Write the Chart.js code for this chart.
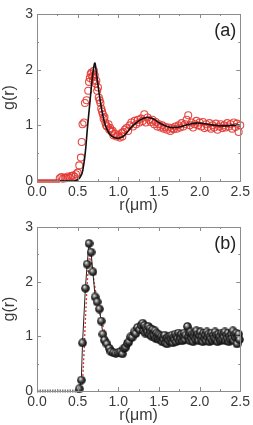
<!DOCTYPE html>
<html>
<head>
<meta charset="utf-8">
<script src="https://cdn.jsdelivr.net/npm/chart.js@4.4.1/dist/chart.umd.min.js"></script>
<style>
  html, body { margin: 0; padding: 0; background: #fff; }
  body { width: 253px; height: 425px; position: relative; overflow: hidden; }
  canvas { position: absolute; left: 0; }
  #ca { top: 0; }
  #cb { top: 212px; }
</style>
</head>
<body>
<canvas id="ca" width="253" height="215"></canvas>
<canvas id="cb" width="253" height="213"></canvas>
<script>
// axis ticks
const xTicks = [0, 0.5, 1.0, 1.5, 2.0, 2.5];
const yTicks = [0, 1, 2, 3];

// panel (a): measured g(r), red open circles
const aZeroR = [0, 0.28];
const aZeroG = [0, 0];
const aDataR = [0.28,0.30,0.32,0.34,0.36,0.38,0.40,0.42,0.44,0.46,0.48,0.50,0.52,0.54,0.55,0.56,0.58,0.59,0.61,0.63,
  0.64,0.65,0.66,0.67,0.68,0.69,0.70,0.71,0.72,0.73,0.74,0.75,0.76,0.77,0.78,0.79,0.80,0.81,0.82,0.83,
  0.84,0.85,0.86,0.88,0.89,0.90,0.92,0.93,0.94,0.96,0.98,1.00,1.02,1.04,1.05,1.06,1.08,1.10,1.12,1.14,
  1.16,1.18,1.20,1.22,1.24,1.26,1.28,1.30,1.32,1.34,1.36,1.38,1.40,1.42,1.44,1.46,1.48,1.50,1.52,1.54,
  1.56,1.58,1.60,1.62,1.64,1.66,1.68,1.70,1.72,1.74,1.76,1.78,1.80,1.82,1.84,1.86,1.88,1.90,1.92,1.94,
  1.96,1.98,2.00,2.02,2.04,2.06,2.08,2.10,2.12,2.14,2.16,2.18,2.20,2.22,2.24,2.26,2.28,2.30,2.32,2.34,
  2.36,2.38,2.40,2.42,2.44,2.46,2.48,2.50];
const aDataG = [0.05,0.07,0.04,0.06,0.05,0.08,0.06,0.09,0.10,0.08,0.12,0.15,0.28,0.42,0.70,1.02,1.05,1.40,1.45,1.62,
  1.78,1.85,1.92,1.95,1.88,1.80,1.98,1.90,1.75,1.80,1.62,1.68,1.50,1.45,1.40,1.30,1.25,1.20,1.12,1.15,
  1.05,1.00,0.98,1.02,0.92,0.95,0.88,0.90,0.82,0.85,0.80,0.82,0.78,0.86,0.80,0.88,0.92,0.95,0.90,1.00,
  1.05,0.98,1.08,1.02,1.10,1.05,1.12,1.08,1.20,1.05,1.14,1.10,1.06,1.10,1.02,1.06,0.98,1.02,0.96,1.00,
  0.94,0.97,0.92,0.96,0.90,0.95,0.93,0.98,0.94,1.00,0.96,1.04,0.98,1.02,1.10,1.18,1.00,1.05,0.96,1.02,
  1.08,1.00,1.05,0.98,1.06,0.95,1.02,0.97,1.04,0.94,1.00,0.96,1.03,0.92,0.98,1.02,0.95,1.00,0.96,1.04,
  0.98,1.02,0.94,1.05,0.97,1.03,0.88,1.00];

// panel (a): model curve, black line
const aFitR = [0.28,0.45,0.50,0.55,0.58,0.60,0.62,0.65,0.68,0.71,0.73,0.75,0.78,0.80,0.83,0.86,0.90,0.95,1.00,1.05,
  1.10,1.15,1.20,1.25,1.30,1.35,1.40,1.45,1.50,1.55,1.60,1.65,1.70,1.75,1.80,1.85,1.90,1.95,2.00,2.10,
  2.20,2.30,2.40,2.50];
const aFitG = [0,0,0.02,0.12,0.35,0.60,0.95,1.40,1.85,2.12,1.95,1.72,1.42,1.25,1.05,0.93,0.83,0.78,0.77,0.79,
  0.86,0.95,1.02,1.08,1.12,1.14,1.13,1.10,1.05,1.01,0.98,0.96,0.96,0.97,0.99,1.01,1.03,1.04,1.04,1.02,
  1.00,0.99,1.00,1.00];

// panel (b): simulated g(r), black spheres
const bZeroR = [0, 0.52];
const bZeroG = [0, 0];
const bDataR = [0.52,0.545,0.56,0.595,0.617,0.64,0.665,0.687,0.715,0.74,0.767,0.79,0.81,0.83,0.86,0.89,0.91,0.94,0.97,1.00,
  1.03,1.05,1.07,1.09,1.11,1.13,1.15,1.17,1.195,1.215,1.235,1.26,1.28,1.30,1.31,1.32,1.33,1.34,1.35,1.36,
  1.37,1.38,1.39,1.40,1.41,1.42,1.43,1.44,1.45,1.46,1.47,1.48,1.49,1.50,1.51,1.52,1.53,1.54,1.55,1.56,
  1.57,1.58,1.59,1.60,1.61,1.62,1.63,1.64,1.65,1.66,1.67,1.68,1.69,1.70,1.71,1.72,1.73,1.74,1.75,1.76,
  1.77,1.78,1.79,1.80,1.81,1.82,1.83,1.85,1.86,1.87,1.88,1.89,1.90,1.91,1.92,1.93,1.94,1.95,1.96,1.97,
  1.98,1.99,2.00,2.01,2.02,2.03,2.04,2.05,2.06,2.07,2.08,2.09,2.10,2.11,2.12,2.13,2.14,2.15,2.16,2.17,
  2.18,2.19,2.20,2.21,2.22,2.23,2.24,2.25,2.26,2.27,2.28,2.29,2.30,2.31,2.32,2.33,2.34,2.35,2.36,2.37,
  2.38,2.39,2.40,2.41,2.42,2.43,2.44,2.45,2.46,2.47,2.48,2.49];
const bDataG = [0.04,0.20,0.88,1.88,2.32,2.70,2.54,2.18,1.72,1.63,1.50,1.28,1.04,0.93,0.86,0.78,0.72,0.70,0.69,0.70,
  0.72,0.68,0.78,0.80,0.87,0.90,0.99,0.98,1.08,1.05,1.16,1.12,1.20,1.24,1.10,1.20,1.06,1.16,1.12,1.08,
  1.18,1.04,1.14,1.08,1.00,1.12,1.04,1.02,1.10,0.96,1.06,0.98,1.04,0.94,1.02,0.96,1.00,0.90,0.98,0.94,
  1.02,0.88,0.96,0.86,0.98,0.92,1.00,0.90,0.96,1.02,0.88,0.98,0.94,1.04,0.90,1.00,0.96,1.06,0.92,1.02,
  0.96,1.04,0.92,1.00,1.06,0.94,1.02,1.18,1.00,1.06,0.92,1.08,0.96,1.04,0.90,1.00,1.06,0.94,1.10,0.98,
  1.04,0.92,1.02,1.08,0.94,1.00,0.90,1.06,0.96,1.02,0.92,1.08,0.98,1.04,0.90,1.00,0.95,1.06,0.92,1.02,
  0.96,1.08,0.94,1.02,0.90,1.04,0.96,1.00,0.92,1.06,0.94,1.04,0.98,1.08,0.92,1.02,0.96,1.06,0.90,1.00,
  0.94,1.04,0.96,1.10,0.92,1.02,0.98,1.06,0.86,1.00,1.04,0.94];

// panel (b): model curve, red dotted line
const bFitR = [0.52,0.55,0.57,0.60,0.63,0.65,0.67,0.70,0.75,0.80,0.85,0.90,0.95,1.00,1.05,1.10,1.15,1.20,1.25,1.30,
  1.35,1.40,1.50,1.60,1.70,1.80,1.90,2.00,2.20,2.50];
const bFitG = [0,0.05,0.45,1.45,2.25,2.48,2.35,2.02,1.58,1.25,1.00,0.85,0.76,0.72,0.72,0.77,0.87,0.98,1.07,1.12,
  1.13,1.09,1.01,0.96,0.95,0.98,1.00,1.01,1.00,1.00];

const FONT = "'Liberation Sans', Arial, sans-serif";
const TXT = '#3a3a3a';

const pts = (xs, ys) => xs.map((x, i) => ({ x: x, y: ys[i] }));

function makeSphere(d) {
  const c = document.createElement('canvas');
  c.width = c.height = d;
  const g = c.getContext('2d');
  const grad = g.createRadialGradient(d * 0.36, d * 0.32, 0.1, d / 2, d / 2, d / 2);
  grad.addColorStop(0, '#ffffff');
  grad.addColorStop(0.2, '#b0b0b0');
  grad.addColorStop(0.55, '#3c3c3c');
  grad.addColorStop(1, '#050505');
  g.fillStyle = grad;
  g.beginPath();
  g.arc(d / 2, d / 2, d / 2 - 0.2, 0, Math.PI * 2);
  g.fill();
  return c;
}
const sphere = makeSphere(9);

// frame, inward ticks on all four sides, and the panel letter
const framePlugin = {
  id: 'frame',
  afterDraw(chart, args, opts) {
    const { ctx, chartArea: a, scales } = chart;
    ctx.save();
    ctx.strokeStyle = '#8c8c8c';
    ctx.lineWidth = 1;
    ctx.strokeRect(Math.round(a.left) + 0.5, Math.round(a.top) + 0.5,
      Math.round(a.right - a.left), Math.round(a.bottom - a.top));
    ctx.beginPath();
    for (let v = 0; v <= 2.5001; v += 0.25) {
      const px = Math.round(scales.x.getPixelForValue(v)) + 0.5;
      const len = Math.abs(v / 0.5 - Math.round(v / 0.5)) < 1e-6 ? 4 : 2;
      ctx.moveTo(px, a.bottom); ctx.lineTo(px, a.bottom - len);
      ctx.moveTo(px, a.top); ctx.lineTo(px, a.top + len);
    }
    for (let v = 0; v <= 3.0001; v += 0.5) {
      const py = Math.round(scales.y.getPixelForValue(v)) + 0.5;
      const len = Math.abs(v - Math.round(v)) < 1e-6 ? 4 : 2;
      ctx.moveTo(a.left, py); ctx.lineTo(a.left + len, py);
      ctx.moveTo(a.right, py); ctx.lineTo(a.right - len, py);
    }
    ctx.stroke();
    ctx.fillStyle = '#222';
    ctx.font = '18px ' + FONT;
    ctx.textAlign = 'right';
    ctx.textBaseline = 'middle';
    ctx.fillText(opts.label, a.right - 4, a.top + 17);
    ctx.restore();
  }
};

function scalesFor() {
  return {
    x: {
      type: 'linear', min: 0, max: 2.5,
      afterFit: s => { s.height = 34; },
      afterBuildTicks: s => { s.ticks = xTicks.map(v => ({ value: v })); },
      grid: { display: false, drawTicks: false },
      border: { display: false },
      ticks: { padding: 3, color: TXT, font: { family: FONT, size: 14 }, maxRotation: 0,
        callback: v => Number(v).toFixed(1) },
      title: { display: true, text: 'r(\u03bcm)', color: TXT, padding: 0,
        font: { family: FONT, size: 16 } }
    },
    y: {
      type: 'linear', min: 0, max: 3,
      afterFit: s => { s.width = 37; },
      afterBuildTicks: s => { s.ticks = yTicks.map(v => ({ value: v })); },
      grid: { display: false, drawTicks: false },
      border: { display: false },
      ticks: { padding: 4, color: TXT, font: { family: FONT, size: 14 } },
      title: { display: true, text: 'g(r)', color: TXT, padding: 0,
        font: { family: FONT, size: 16 } }
    }
  };
}

const common = {
  responsive: false,
  animation: false,
  events: [],
  plugins: { legend: { display: false }, tooltip: { enabled: false } }
};

new Chart(document.getElementById('ca'), {
  type: 'scatter',
  data: {
    datasets: [
      { data: pts(aZeroR, aZeroG), showLine: true, borderColor: '#e33a32', borderWidth: 3.5,
        pointRadius: 0, clip: false, order: 0 },
      { data: pts(aFitR, aFitG), showLine: true, borderColor: '#111', borderWidth: 1.6,
        pointRadius: 0, tension: 0.35, order: 1 },
      { data: pts(aDataR, aDataG), borderColor: 'rgba(225,55,50,0.9)', backgroundColor: 'rgba(0,0,0,0)',
        borderWidth: 1.1, pointRadius: 3.5, clip: false, order: 2 }
    ]
  },
  options: Object.assign({}, common, {
    layout: { padding: { top: 14, right: 11, left: 0, bottom: 0 } },
    scales: scalesFor(),
    plugins: Object.assign({}, common.plugins, { frame: { label: '(a)' } })
  }),
  plugins: [framePlugin]
});

new Chart(document.getElementById('cb'), {
  type: 'scatter',
  data: {
    datasets: [
      { data: pts(bDataR, bDataG), showLine: true, borderColor: '#222', borderWidth: 1,
        pointStyle: sphere, pointRadius: 4.5, clip: false, order: 1 },
      { data: pts(bFitR, bFitG), showLine: true, borderColor: '#e0302a', borderWidth: 1.3,
        borderDash: [2, 2], pointRadius: 0, tension: 0.3, order: 2 },
      { data: pts(bZeroR, bZeroG), showLine: true, borderColor: '#7a7a7a', borderWidth: 3,
        borderDash: [1.5, 1], pointRadius: 0, clip: false, order: 3 }
    ]
  },
  options: Object.assign({}, common, {
    layout: { padding: { top: 15, right: 11, left: 0, bottom: 0 } },
    scales: scalesFor(),
    plugins: Object.assign({}, common.plugins, { frame: { label: '(b)' } })
  }),
  plugins: [framePlugin]
});
</script>
</body>
</html>
